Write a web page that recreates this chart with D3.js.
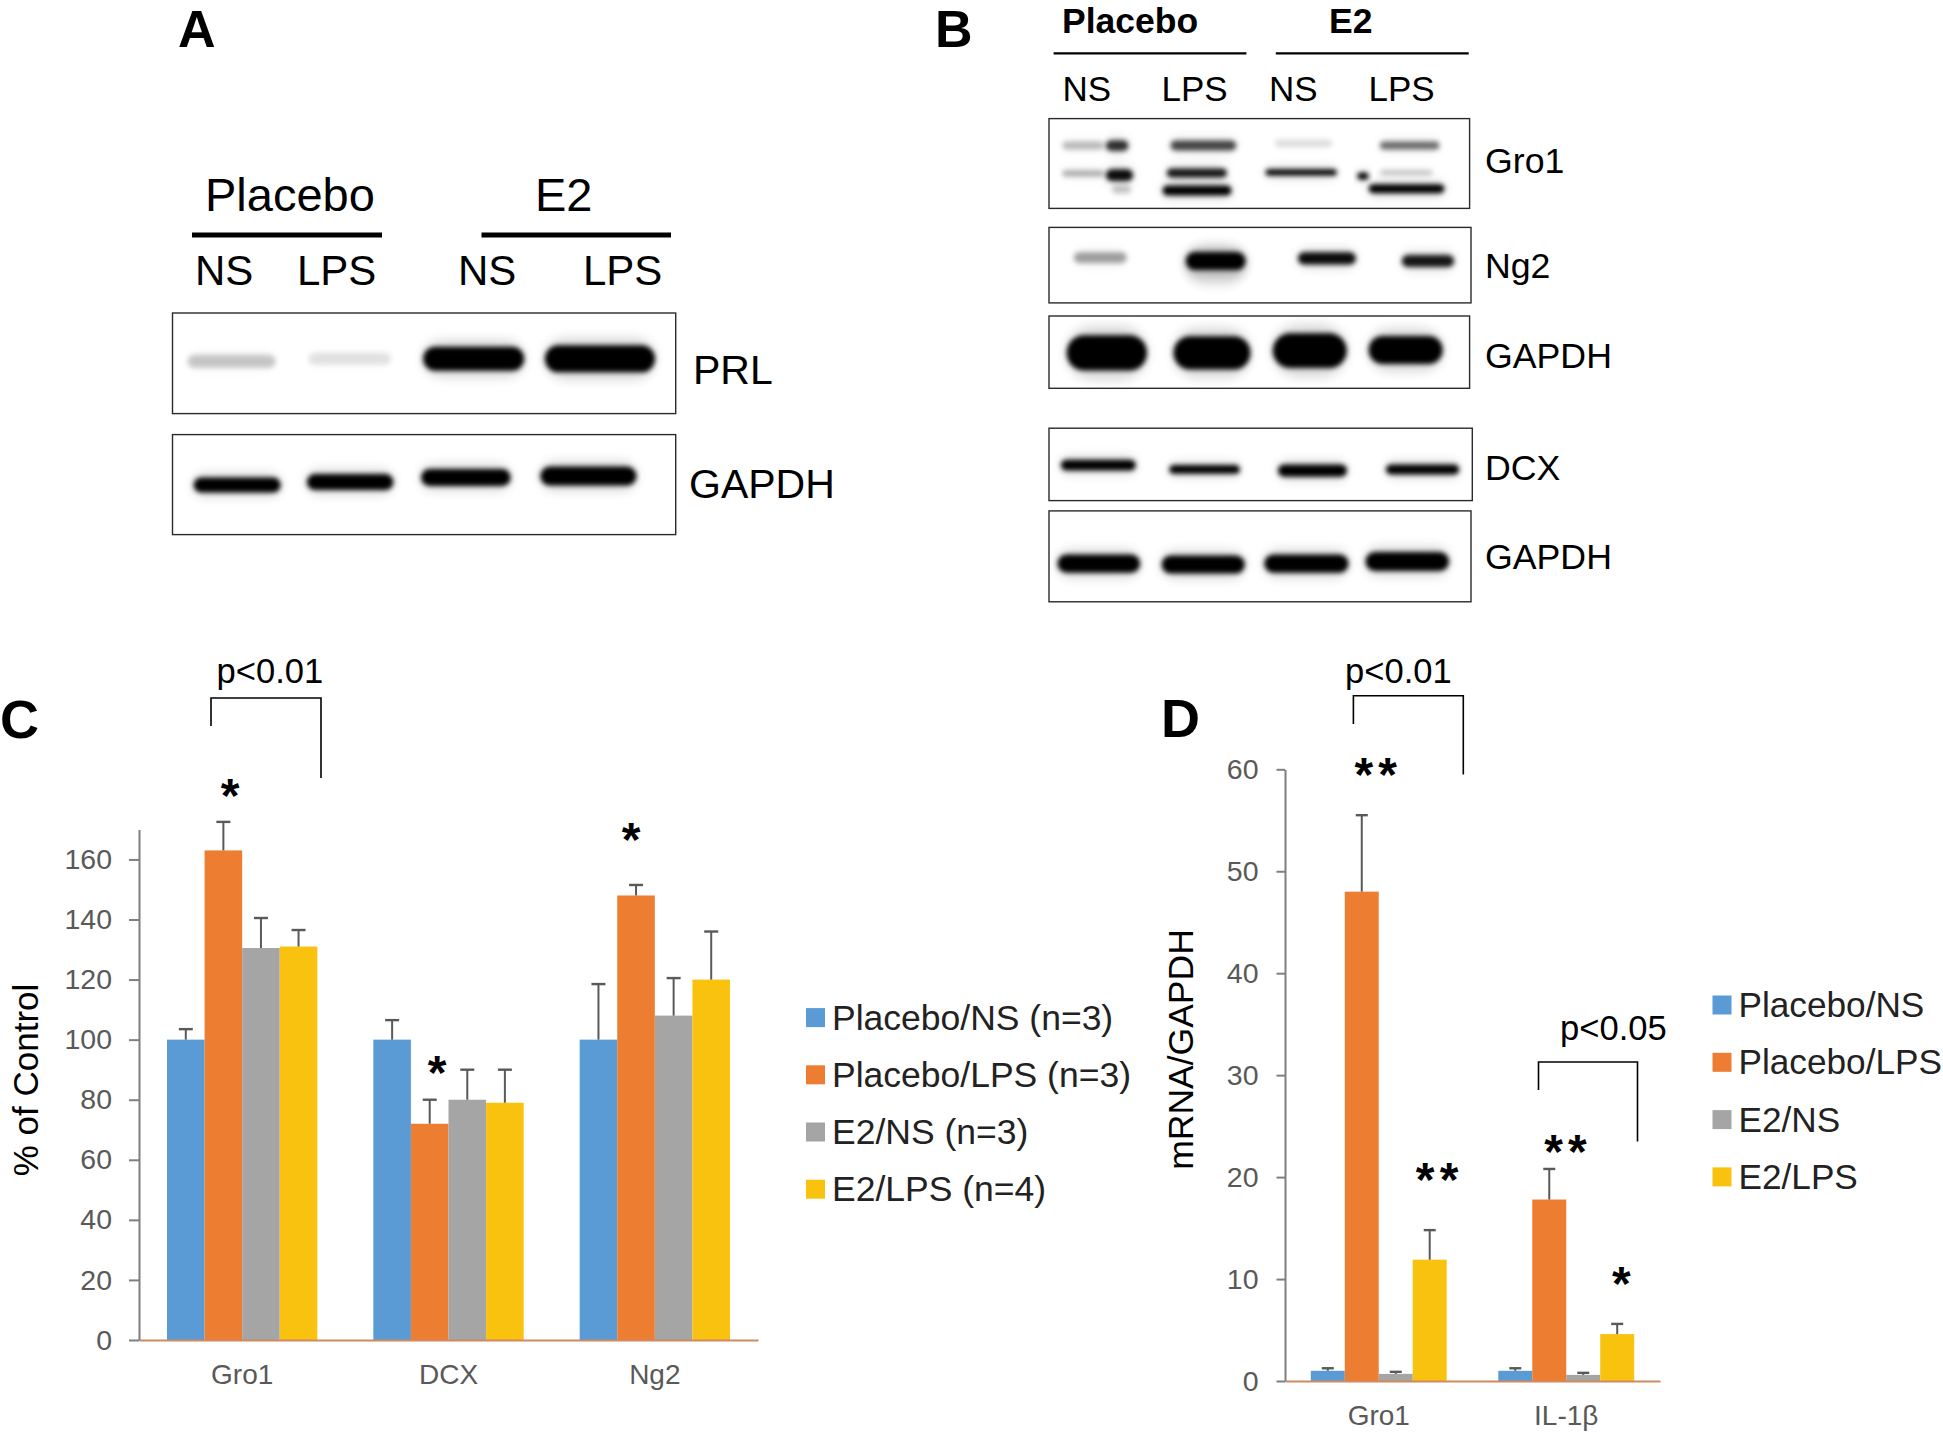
<!DOCTYPE html>
<html><head><meta charset="utf-8">
<style>
html,body{margin:0;padding:0;background:#fff;overflow:hidden}
svg{display:block}
text{font-family:"Liberation Sans",Arial,sans-serif}
</style>
<script src="https://cdn.jsdelivr.net/npm/d3@7"></script>
</head><body>
<svg id="fig" width="1943" height="1433"></svg>
<script>
// ---- chart values ----
const seriesColors = ["#5B9BD5","#ED7D31","#A5A5A5","#F9C20F"];
const cCategories = ["Gro1","DCX","Ng2"];
const cLegend = ["Placebo/NS (n=3)","Placebo/LPS (n=3)","E2/NS (n=3)","E2/LPS (n=4)"];
const cPlaceboNS  = [100,100,100];
const cPlaceboLPS = [163,72,148];
const cE2NS       = [130.5,80,108];
const cE2LPS      = [131,79,120];
const cPlaceboNSTop  = [103.5,106.5,118.5];
const cPlaceboLPSTop = [172.5,80,151.5];
const cE2NSTop       = [140.5,90,120.5];
const cE2LPSTop      = [136.5,90,136];
const cTicks = [0,20,40,60,80,100,120,140,160];

const dCategories = ["Gro1","IL-1β"];
const dLegend = ["Placebo/NS","Placebo/LPS","E2/NS","E2/LPS"];
const dPlaceboNS  = [1,1];
const dPlaceboLPS = [48,17.8];
const dE2NS       = [0.7,0.6];
const dE2LPS      = [11.9,4.6];
const dPlaceboNSTop  = [1.25,1.25];
const dPlaceboLPSTop = [55.5,20.8];
const dE2NSTop       = [0.9,0.8];
const dE2LPSTop      = [14.8,5.6];
const dTicks = [0,10,20,30,40,50,60];

// blot bands: [lane start %, lane end %, migration %, thickness %, intensity]
const bandsPRL = [[3,20.5,48,13,.2],[27,43.4,45.5,12,.1],[49.8,69.9,45.5,24,1],[74,95.9,45.5,27,1]];
const bandsGapdhA = [[4.2,21.5,50.4,15,1],[26.7,43.9,47.5,16,1],[49.4,67.2,43,17,1],[73.1,92.2,41.5,19,1]];
const bandsGro1 = [[3.2,13,30,9,.25],[13.5,18.9,30,12,.8],[28.9,44.5,30,11,.7],[53.7,67.3,27.5,8,.12],[78.7,92.8,30,9,.55],
  [3.2,13,61,7,.3],[13.5,20,63,13,.95],[28,42.3,60.5,10,.9],[51.5,68.4,60,7,1],[78.7,91.2,60,6,.2],
  [27,43.4,80,11,1],[76,94,78,10,1],[73.3,76,64,8,1],[15,19.5,79,9,.2]];
const bandsNg2 = [[5.9,18.4,40,14,.35],[32.4,46.6,50,45,.15],[32.4,46.6,44.5,24,1],[59,72.7,41,16,.95],[83.6,96,44.5,16,.9]];
const bandsGapdhB1 = [[4.2,23.3,51,49,1],[29.6,47.9,51,46,1],[53.2,70.8,48,48,1],[76,93.6,47,39,1]];
const bandsDCX = [[2.8,20.5,51,15,1],[28.4,45.1,57,12,1],[54.1,70.4,58.5,17,1],[79.6,96.9,57,14,1]];
const bandsGapdhB2 = [[2,21.6,58,20,1],[26.7,46.4,59,20,1],[51,71,58,20,1],[75,94.8,55.6,21,1]];

const svg = d3.select("#fig");
const defs = svg.append("defs");
defs.append("filter").attr("id","blur").attr("x","-30%").attr("y","-100%").attr("width","160%").attr("height","300%")
  .append("feGaussianBlur").attr("stdDeviation",2.6);
defs.append("filter").attr("id","halo").attr("x","-30%").attr("y","-150%").attr("width","160%").attr("height","400%")
  .append("feGaussianBlur").attr("stdDeviation",6);

function label(t,x,y,size,opt={}){
  return svg.append("text").attr("x",x).attr("y",y).attr("font-size",size)
    .attr("font-weight",opt.bold?"bold":"normal").attr("fill",opt.fill||"#000")
    .attr("text-anchor",opt.anchor||"start").attr("transform",opt.rot?`rotate(-90 ${x} ${y})`:null).text(t);
}
function rule(x1,x2,y,w){svg.append("line").attr("x1",x1).attr("x2",x2).attr("y1",y).attr("y2",y).attr("stroke","#000").attr("stroke-width",w);}

function blot(x0,x1,y0,y1,bands){
  const fx=d3.scaleLinear([0,100],[x0,x1]), fy=d3.scaleLinear([0,100],[y0,y1]);
  const g=svg.append("g");
  const place=(sel,k)=>sel
    .attr("x",d=>fx(d[0])).attr("width",d=>fx(d[1])-fx(d[0]))
    .attr("y",d=>fy(d[2]-k*d[3]/2)).attr("height",d=>k*(fy(d[3])-fy(0)))
    .attr("rx",d=>Math.min(k*(fy(d[3])-fy(0))/2,(fx(d[1])-fx(d[0]))/2))
    .attr("fill","#000");
  place(g.selectAll("rect.glow").data(bands).join("rect").attr("class","glow"),1.5)
    .attr("opacity",d=>d[4]*.16).attr("filter","url(#halo)");
  place(g.selectAll("rect.band").data(bands).join("rect").attr("class","band"),1)
    .attr("opacity",d=>d[4])
    .attr("filter",d=>d[3]>30&&d[4]<.5?"url(#halo)":"url(#blur)");
  g.append("rect").attr("x",x0).attr("y",y0).attr("width",x1-x0).attr("height",y1-y0)
    .attr("fill","none").attr("stroke","#2a2a2a").attr("stroke-width",1.4);
}

// ---- Panel A ----
label("A",178,47,52,{bold:true});
label("Placebo",205,211,47); label("E2",535,211,47);
rule(192,382,235,5); rule(481.5,671,235,5);
[["NS",195],["LPS",297],["NS",458],["LPS",583]].forEach(d=>label(d[0],d[1],285,42));
blot(172.5,675.7,313,413.6,bandsPRL);
blot(172.5,675.7,434.6,534.6,bandsGapdhA);
label("PRL",693,384,41); label("GAPDH",689,498,41);

// ---- Panel B ----
label("B",935,47,52,{bold:true});
label("Placebo",1062,32.5,35.5,{bold:true}); label("E2",1329,32.5,35.5,{bold:true});
rule(1053.6,1246.4,53.4,2.2); rule(1275.8,1468.7,53.4,2.2);
[["NS",1062.5],["LPS",1161.5],["NS",1269],["LPS",1368.5]].forEach(d=>label(d[0],d[1],101,35));
blot(1049,1469.6,118.6,208.4,bandsGro1);
blot(1049,1471,227.4,302.9,bandsNg2);
blot(1049,1469.6,316,388.3,bandsGapdhB1);
blot(1049,1472.3,428.2,500.6,bandsDCX);
blot(1049,1471,510.9,601.8,bandsGapdhB2);
[["Gro1",173],["Ng2",278],["GAPDH",368],["DCX",480],["GAPDH",569]].forEach(d=>label(d[0],1485,d[1],35.7));

// ---- bar chart helper ----
function barChart(o){
  const g=svg.append("g");
  const x0=d3.scaleBand().domain(o.categories).range([o.left,o.right]);
  const x1=d3.scaleBand().domain(d3.range(4)).range([o.barInset,x0.bandwidth()-o.barInset]);
  const y=d3.scaleLinear().domain(o.yDomain).range([o.bottom,o.top]);
  o.series.forEach((vals,s)=>{
    g.selectAll(null).data(vals).join("rect")
      .attr("x",(d,i)=>x0(o.categories[i])+x1(s)).attr("width",x1.bandwidth())
      .attr("y",d=>y(d)).attr("height",d=>y(0)-y(d)).attr("fill",seriesColors[s]);
  });
  o.tops.forEach((vals,s)=>{
    vals.forEach((t,i)=>{
      const cx=x0(o.categories[i])+x1(s)+x1.bandwidth()/2;
      const eb=g.append("g").attr("stroke","#595959");
      eb.append("line").attr("x1",cx).attr("x2",cx).attr("y1",y(o.series[s][i])).attr("y2",y(t)).attr("stroke-width",2);
      eb.append("line").attr("x1",cx-o.cap).attr("x2",cx+o.cap).attr("y1",y(t)).attr("y2",y(t)).attr("stroke-width",2.4);
    });
  });
  const xa=g.append("g").attr("transform",`translate(0,${o.bottom})`)
    .call(d3.axisBottom(x0).tickSize(0).tickPadding(o.catPad));
  xa.selectAll("text").attr("font-size",28).attr("fill","#595959").attr("font-family",'"Liberation Sans",Arial,sans-serif');
  xa.select("path").attr("stroke","#cf8a62").attr("stroke-width",2);
  const ya=g.append("g").attr("transform",`translate(${o.left},0)`)
    .call(d3.axisLeft(y).tickValues(o.ticks).tickSize(o.tick).tickPadding(o.pad).tickSizeOuter(0));
  ya.selectAll("text").attr("font-size",28.5).attr("fill","#595959").attr("font-family",'"Liberation Sans",Arial,sans-serif');
  ya.selectAll("line,path").attr("stroke","#7f7f7f").attr("stroke-width",2);
  o.legend.forEach((t,i)=>{
    const ly=o.legendY+i*o.legendStep;
    svg.append("rect").attr("x",o.legendX).attr("y",ly-9.5).attr("width",19).attr("height",19).attr("fill",seriesColors[i]);
    label(t,o.legendX+26,ly+12,o.legendSize,{fill:"#222"});
  });
}

// ---- Panel C ----
label("C",0,738,54,{bold:true});
barChart({categories:cCategories,series:[cPlaceboNS,cPlaceboLPS,cE2NS,cE2LPS],
  tops:[cPlaceboNSTop,cPlaceboLPSTop,cE2NSTop,cE2LPSTop],ticks:cTicks,
  left:139,right:758,top:829.4,bottom:1340,yDomain:[0,170],barInset:28,cap:7,tick:10,pad:17,catPad:24,
  legend:cLegend,legendX:806,legendY:1017.6,legendStep:57.2,legendSize:35.5});
label("% of Control",38,1080,35,{rot:true,anchor:"middle"});

// ---- Panel D ----
label("D",1161,737,54,{bold:true});
barChart({categories:dCategories,series:[dPlaceboNS,dPlaceboLPS,dE2NS,dE2LPS],
  tops:[dPlaceboNSTop,dPlaceboLPSTop,dE2NSTop,dE2LPSTop],ticks:dTicks,
  left:1285,right:1660,top:769.3,bottom:1381,yDomain:[0,60],barInset:25.8,cap:6,tick:8.5,pad:18,catPad:24,
  legend:dLegend,legendX:1712.5,legendY:1005,legendStep:57.3,legendSize:35.2});
label("mRNA/GAPDH",1193,1049.5,35.5,{rot:true,anchor:"middle"});

// ---- brackets and significance marks ----
function bracket(x1,y1,x2,y2,top){
  svg.append("path").attr("fill","none").attr("stroke","#000").attr("stroke-width",1.6)
    .attr("d",d3.line()([[x1,y1],[x1,top],[x2,top],[x2,y2]]));
}
bracket(211,726,321,778,698);   label("p<0.01",216.5,683,34.6);
bracket(1353.4,724,1463.3,774.5,695.7); label("p<0.01",1345,683,34.6);
bracket(1538.5,1090,1637.5,1141.5,1062); label("p<0.05",1560,1040,34.6);
function star(cx,cy){label("*",cx,cy+22,48,{bold:true,anchor:"middle"});}
[[230,789.5],[631,833.6],[437,1067],[1363.8,768.8],[1387.6,768.8],[1425,1173.6],[1449,1173.6],
 [1553.5,1146],[1577.4,1146],[1621.4,1278.4]].forEach(d=>star(d[0],d[1]));
</script>
</body></html>
